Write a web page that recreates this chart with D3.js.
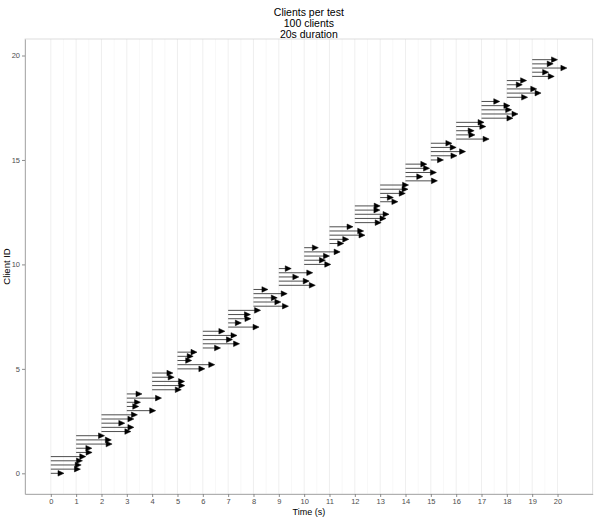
<!DOCTYPE html>
<html>
<head>
<meta charset="utf-8">
<script src="https://cdn.jsdelivr.net/npm/d3@7"></script>
<style>
  body { margin: 0; background: #fff; }
  text { font-family: "Liberation Sans", Arial, sans-serif; }
</style>
</head>
<body>
<div id="chart"></div>
<script>
// one group of 5 clients starts at each second
const startSeconds = [0, 1, 2, 3, 4, 5, 6, 7, 8, 9, 10, 11, 12, 13, 14, 15, 16, 17, 18, 19];
const slotOffsets = [0, 0.2, 0.4, 0.6, 0.8];

// end time of each client, per group
const endTimes = [
  [0.52, 1.17, 1.2, 1.25, 1.38],
  [1.63, 1.62, 2.42, 2.39, 2.12],
  [3.16, 3.28, 2.92, 3.28, 3.42],
  [4.14, 3.47, 3.54, 4.37, 3.6],
  [5.15, 5.29, 5.28, 4.87, 4.82],
  [6.08, 6.47, 5.56, 5.62, 5.77],
  [6.7, 7.45, 7.17, 7.35, 6.87],
  [8.22, 7.52, 7.9, 7.88, 8.28],
  [9.38, 9.08, 8.94, 9.33, 8.57],
  [10.44, 10.2, 9.79, 10.34, 9.49],
  [11.05, 10.84, 11.0, 11.42, 10.56],
  [11.56, 11.76, 12.4, 12.35, 11.93],
  [13.04, 13.23, 13.35, 12.99, 13.0],
  [13.7, 13.52, 13.99, 14.1, 14.12],
  [15.26, 14.68, 15.22, 14.95, 14.84],
  [15.5, 16.03, 16.37, 16.0, 15.83],
  [17.3, 16.74, 16.71, 17.17, 17.1],
  [18.24, 18.44, 18.19, 18.12, 17.72],
  [18.82, 19.35, 19.18, 18.61, 18.78],
  [19.87, 19.65, 20.37, 19.83, 20.0]
];

const xTicks = [0, 1, 2, 3, 4, 5, 6, 7, 8, 9, 10, 11, 12, 13, 14, 15, 16, 17, 18, 19, 20];
const yTicks = [0, 5, 10, 15, 20];
const titleLines = ["Clients per test", "100 clients", "20s duration"];

// flatten into one row per client
var clients = [];
startSeconds.forEach(function(s, g) {
    slotOffsets.forEach(function(o, k) {
        clients.push({start: s, end: endTimes[g][k], y: s + o});
    });
});

var width = 600, height = 518;
var margin = {top: 39, right: 7.3, bottom: 24, left: 25};

var svg = d3.select("#chart").append("svg")
    .attr("width", width)
    .attr("height", height);

// ggplot-style 5% expansion
var xMin = d3.min(clients, d => d.start), xMax = d3.max(clients, d => d.end);
var xPad = (xMax - xMin) * 0.05;
var yMin = d3.min(clients, d => d.y), yMax = d3.max(clients, d => d.y);
var yPad = (yMax - yMin) * 0.05;

var x = d3.scaleLinear()
    .domain([xMin - xPad, xMax + xPad])
    .range([margin.left, width - margin.right]);
var y = d3.scaleLinear()
    .domain([yMin - yPad, yMax + yPad])
    .range([height - margin.bottom, margin.top]);

// grid (vertical only)
var minorX = d3.range(0, xTicks.length - 1).map(i => (xTicks[i] + xTicks[i + 1]) / 2);
svg.append("g").selectAll("line").data(minorX).join("line")
    .attr("x1", d => x(d)).attr("x2", d => x(d))
    .attr("y1", margin.top).attr("y2", height - margin.bottom)
    .attr("stroke", "#f4f4f4").attr("stroke-width", 0.6);
svg.append("g").selectAll("line").data(xTicks).join("line")
    .attr("x1", d => x(d)).attr("x2", d => x(d))
    .attr("y1", margin.top).attr("y2", height - margin.bottom)
    .attr("stroke", "#ebebeb").attr("stroke-width", 0.8);

// panel border
svg.append("rect")
    .attr("x", margin.left).attr("y", margin.top)
    .attr("width", width - margin.left - margin.right)
    .attr("height", height - margin.top - margin.bottom)
    .attr("fill", "none")
    .attr("stroke", "#d4d4d4").attr("stroke-width", 0.8);

// segments with closed arrow heads
var headLen = 6, headHalf = 2.8;
var segs = svg.append("g");
segs.selectAll("line").data(clients).join("line")
    .attr("x1", d => x(d.start)).attr("x2", d => x(d.end) - 2)
    .attr("y1", d => y(d.y)).attr("y2", d => y(d.y))
    .attr("stroke", "#3a3a3a").attr("stroke-width", 0.9);
segs.selectAll("path").data(clients).join("path")
    .attr("d", function(d) {
        var tx = x(d.end), ty = y(d.y);
        return "M" + tx + "," + ty + "L" + (tx - headLen) + "," + (ty - headHalf) +
               "L" + (tx - headLen) + "," + (ty + headHalf) + "Z";
    })
    .attr("fill", "#000").attr("stroke", "#000").attr("stroke-width", 0.5);

// axes
var xAxis = svg.append("g")
    .attr("transform", "translate(0," + (height - margin.bottom) + ")")
    .call(d3.axisBottom(x).tickValues(xTicks).tickSize(3).tickPadding(1.5).tickSizeOuter(0));
var yAxis = svg.append("g")
    .attr("transform", "translate(" + margin.left + ",0)")
    .call(d3.axisLeft(y).tickValues(yTicks).tickSize(3).tickPadding(2).tickSizeOuter(0));

[xAxis, yAxis].forEach(function(a) {
    a.select(".domain").attr("stroke", "#a8a8a8").attr("stroke-width", 0.9);
    a.selectAll(".tick line").attr("stroke", "#7f7f7f").attr("stroke-width", 0.9);
    a.selectAll(".tick text")
        .attr("fill", "#4d4d4d")
        .style("font-size", "7.5px")
        .style("font-family", "Liberation Sans, Arial, sans-serif");
});

// titles
svg.append("g").selectAll("text").data(titleLines).join("text")
    .attr("x", (margin.left + width - margin.right) / 2)
    .attr("y", (d, i) => 16 + i * 10.8)
    .attr("text-anchor", "middle")
    .style("font-size", "10.5px")
    .attr("fill", "#000")
    .text(d => d);

svg.append("text")
    .attr("x", (margin.left + width - margin.right) / 2)
    .attr("y", 515)
    .attr("text-anchor", "middle")
    .style("font-size", "9px")
    .text("Time (s)");

svg.append("text")
    .attr("transform", "translate(10," + ((margin.top + height - margin.bottom) / 2) + ") rotate(-90)")
    .attr("text-anchor", "middle")
    .style("font-size", "9.5px")
    .text("Client ID");
</script>
</body>
</html>
